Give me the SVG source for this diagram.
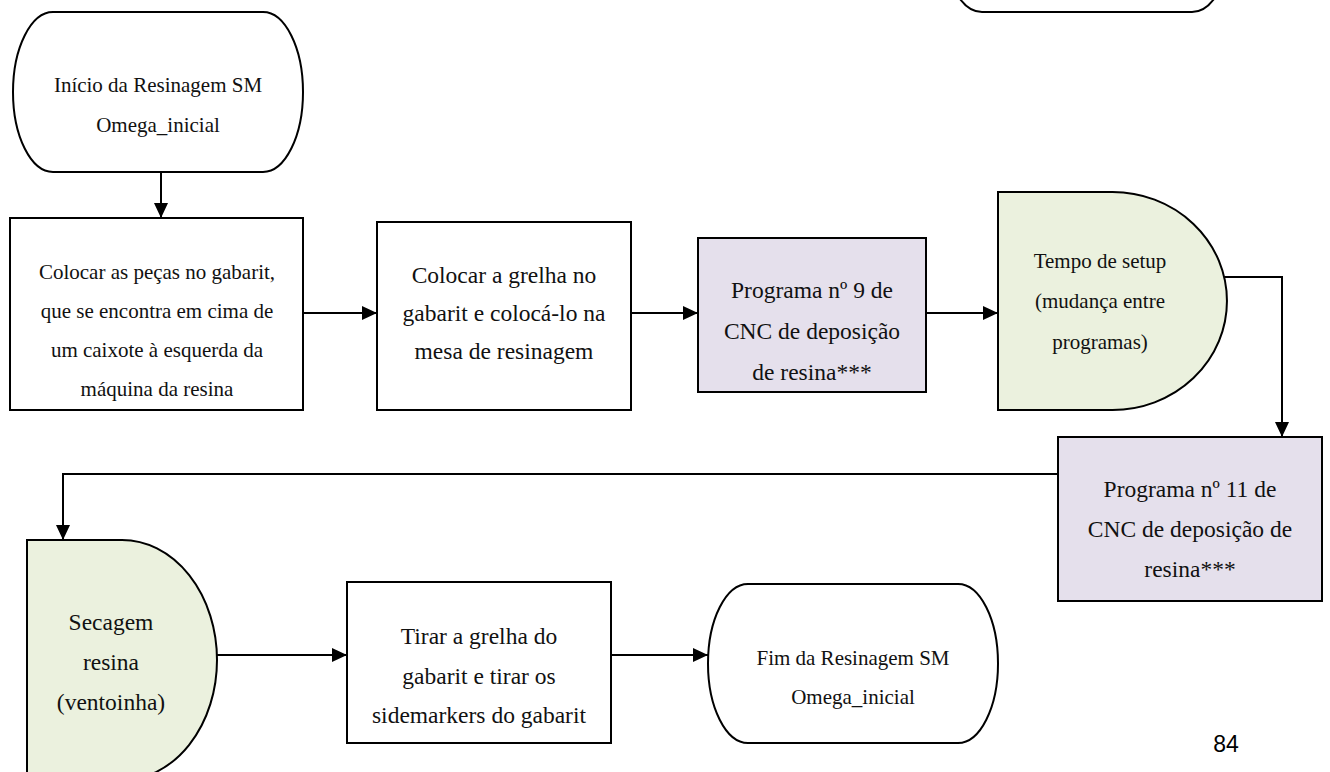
<svg xmlns="http://www.w3.org/2000/svg" width="1330" height="772" viewBox="0 0 1330 772">
  <style>
    .shape { stroke: #000; stroke-width: 2; fill: #fff; }
    .proc { fill: #fff; }
    .cnc { fill: #E5E0EC; }
    .wait { fill: #EBF1DE; }
    .lbl { font-family: "Liberation Serif", "Times New Roman", serif; fill: #111; text-anchor: middle; }
    .s21 { font-size: 21px; }
    .s23 { font-size: 23.5px; }
    .conn { stroke: #000; stroke-width: 2; fill: none; marker-end: url(#arrow); }
    .page { font-family: "Liberation Sans", Arial, sans-serif; font-size: 23px; fill: #000; text-anchor: middle; }
  </style>
  <defs>
    <marker id="arrow" markerUnits="userSpaceOnUse" markerWidth="15" markerHeight="14" refX="15" refY="7" orient="auto">
      <path d="M0,0 L15,7 L0,14 Z" fill="#000"/>
    </marker>
  </defs>
  <rect width="1330" height="772" fill="#fff"/>

  <!-- terminator carried over from the previous page -->
  <g id="prev-end">
    <path class="shape" d="M982,-148 H1192 A40 80 0 0 1 1192,12 H982 A40 80 0 0 1 982,-148 Z"/>
  </g>

  <g id="start">
    <path class="shape" d="M53,12 H263 A40 80 0 0 1 263,172 H53 A40 80 0 0 1 53,12 Z"/>
    <text class="lbl s21"><tspan x="158" y="92">Início da Resinagem SM</tspan><tspan x="158" y="132">Omega_inicial</tspan></text>
  </g>

  <g id="place-parts">
    <rect class="shape proc" x="10" y="218" width="293" height="192"/>
    <text class="lbl s21"><tspan x="157" y="279">Colocar as peças no gabarit,</tspan><tspan x="157" y="318">que se encontra em cima de</tspan><tspan x="157" y="357">um caixote à esquerda da</tspan><tspan x="157" y="396">máquina da resina</tspan></text>
  </g>

  <g id="place-grid">
    <rect class="shape proc" x="377" y="222" width="254" height="188"/>
    <text class="lbl s23"><tspan x="504" y="283">Colocar a grelha no</tspan><tspan x="504" y="321">gabarit e colocá-lo na</tspan><tspan x="504" y="359">mesa de resinagem</tspan></text>
  </g>

  <g id="program-9">
    <rect class="shape cnc" x="698" y="238" width="228" height="154"/>
    <text class="lbl s23"><tspan x="812" y="298">Programa nº 9 de</tspan><tspan x="812" y="339">CNC de deposição</tspan><tspan x="812" y="380">de resina***</tspan></text>
  </g>

  <g id="setup-time">
    <path class="shape wait" d="M998,192 H1112.5 A114.5 109 0 0 1 1112.5,410 H998 Z"/>
    <text class="lbl s21"><tspan x="1100" y="268">Tempo de setup</tspan><tspan x="1100" y="308">(mudança entre</tspan><tspan x="1100" y="349">programas)</tspan></text>
  </g>

  <g id="program-11">
    <rect class="shape cnc" x="1058" y="437" width="264" height="164"/>
    <text class="lbl s23"><tspan x="1190" y="497">Programa nº 11 de</tspan><tspan x="1190" y="537">CNC de deposição de</tspan><tspan x="1190" y="577">resina***</tspan></text>
  </g>

  <g id="drying">
    <path class="shape wait" d="M27,540 H122 A95 120 0 0 1 122,780 H27 Z"/>
    <text class="lbl s23"><tspan x="111" y="630">Secagem</tspan><tspan x="111" y="670">resina</tspan><tspan x="111" y="710">(ventoinha)</tspan></text>
  </g>

  <g id="remove-grid">
    <rect class="shape proc" x="347" y="582" width="264" height="161"/>
    <text class="lbl s23"><tspan x="479" y="644">Tirar a grelha do</tspan><tspan x="479" y="684">gabarit e tirar os</tspan><tspan x="479" y="723">sidemarkers do gabarit</tspan></text>
  </g>

  <g id="end">
    <path class="shape" d="M748,584 H958 A40 79.5 0 0 1 958,743 H748 A40 79.5 0 0 1 748,584 Z"/>
    <text class="lbl s21"><tspan x="853" y="665">Fim da Resinagem SM</tspan><tspan x="853" y="704">Omega_inicial</tspan></text>
  </g>

  <g id="connectors">
    <path class="conn" d="M161,172 V218"/>
    <path class="conn" d="M303,313 H377"/>
    <path class="conn" d="M631,313 H698"/>
    <path class="conn" d="M926,313 H998"/>
    <path class="conn" d="M1224,277 H1282 V437"/>
    <path class="conn" d="M1058,474 H63 V540"/>
    <path class="conn" d="M217,655 H347"/>
    <path class="conn" d="M611,655 H708"/>
  </g>

  <text class="page" x="1226" y="752">84</text>
</svg>
